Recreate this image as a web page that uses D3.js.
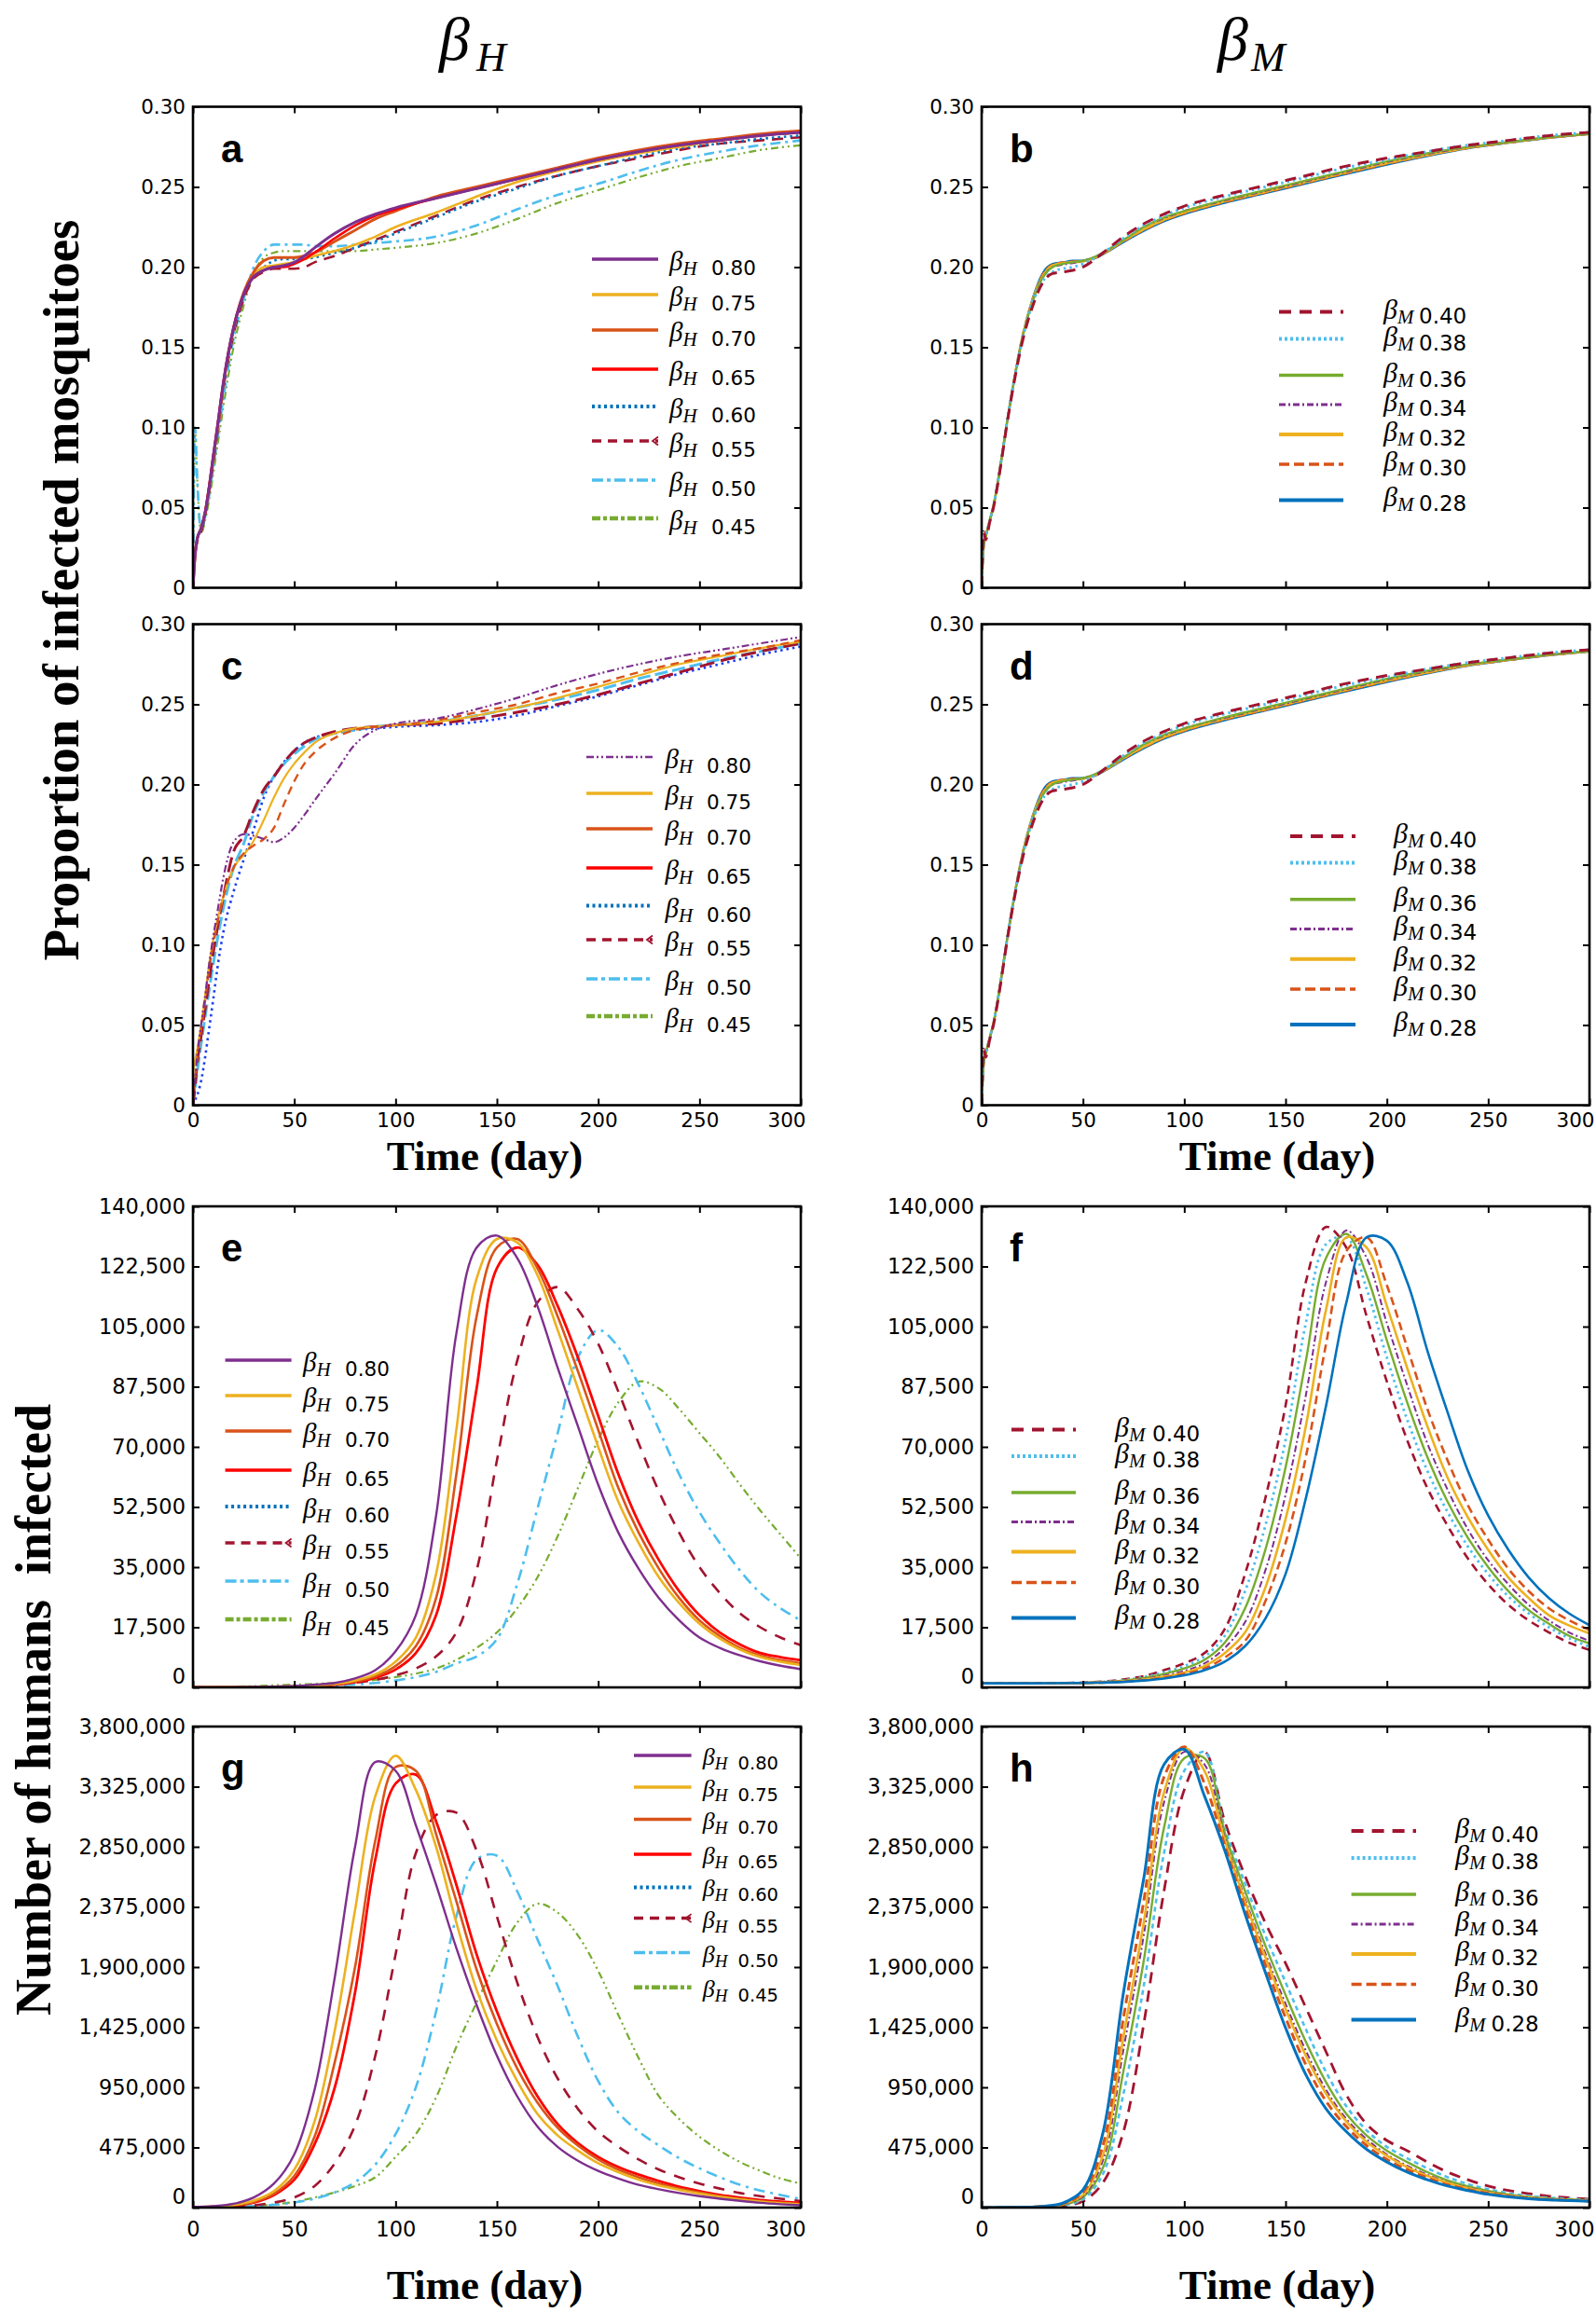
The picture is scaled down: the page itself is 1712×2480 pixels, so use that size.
<!DOCTYPE html>
<html><head><meta charset="utf-8">
<script src="https://cdn.jsdelivr.net/npm/d3@7"></script>
<style>body{margin:0;background:#fff;} svg{display:block;}</style>
</head><body>
<svg id="chart" width="1712" height="2480"></svg>
<script>
// ---------------- DATA ----------------
const X_TICKS = [0,50,100,150,200,250,300];
const X_LABELS = ["0","50","100","150","200","250","300"];
const MOS_YTICKS = [0,0.05,0.10,0.15,0.20,0.25,0.30];
const MOS_YLABELS = ["0","0.05","0.10","0.15","0.20","0.25","0.30"];
const HUM1_YTICKS = [0,17.5,35,52.5,70,87.5,105,122.5,140];           // thousands
const HUM1_YLABELS = ["0","17,500","35,000","52,500","70,000","87,500","105,000","122,500","140,000"];
const HUM2_YTICKS = [0,0.475,0.95,1.425,1.9,2.375,2.85,3.325,3.8];     // millions
const HUM2_YLABELS = ["0","475,000","950,000","1,425,000","1,900,000","2,375,000","2,850,000","3,325,000","3,800,000"];
const BH_LABELS = ["0.80","0.75","0.70","0.65","0.60","0.55","0.50","0.45"];
const BM_LABELS = ["0.40","0.38","0.36","0.34","0.32","0.30","0.28"];

const T_MOS = [0,1,2,4,6,8,10,12,15,20,25,30,35,40,45,50,55,60,70,80,90,100,120,140,160,180,200,220,240,260,280,300];
const T_E = [0,25,50,60,70,80,90,100,110,120,130,140,150,160,170,180,190,200,210,220,230,240,250,260,270,280,290,300];
const T_G = [0,10,20,30,40,50,60,70,80,90,100,110,120,130,140,150,160,170,180,190,200,210,220,230,240,250,260,270,280,290,300];

// panel a (proportion)
const A_080 = [0,0.02,0.03,0.037,0.047,0.063,0.082,0.1,0.128,0.162,0.183,0.194,0.198,0.2,0.201,0.203,0.207,0.212,0.221,0.228,0.233,0.237,0.243,0.249,0.255,0.261,0.267,0.272,0.276,0.279,0.282,0.284];
const A_075 = [0,0.02,0.03,0.037,0.047,0.063,0.081,0.099,0.127,0.161,0.183,0.195,0.2,0.201,0.202,0.203,0.205,0.207,0.21,0.214,0.219,0.225,0.234,0.244,0.253,0.26,0.266,0.271,0.275,0.279,0.282,0.284];
const A_070 = [0,0.02,0.03,0.037,0.047,0.063,0.081,0.099,0.127,0.162,0.184,0.197,0.204,0.206,0.206,0.206,0.207,0.209,0.216,0.223,0.23,0.235,0.244,0.25,0.256,0.262,0.268,0.273,0.277,0.28,0.283,0.285];
const A_065 = [0,0.02,0.03,0.037,0.047,0.063,0.082,0.1,0.128,0.162,0.183,0.194,0.198,0.2,0.2,0.202,0.205,0.209,0.218,0.226,0.232,0.236,0.243,0.249,0.255,0.261,0.267,0.272,0.276,0.279,0.282,0.284];
const A_060 = [0,0.02,0.03,0.036,0.046,0.062,0.08,0.098,0.126,0.16,0.182,0.194,0.2,0.204,0.205,0.205,0.205,0.206,0.209,0.212,0.216,0.221,0.231,0.241,0.249,0.257,0.263,0.269,0.274,0.277,0.28,0.282];
const A_055 = [0,0.02,0.028,0.035,0.045,0.06,0.078,0.096,0.124,0.158,0.18,0.193,0.197,0.199,0.199,0.199,0.2,0.203,0.207,0.212,0.217,0.222,0.232,0.242,0.25,0.257,0.263,0.268,0.273,0.277,0.279,0.281];
const A_050 = [0,0.1,0.07,0.036,0.044,0.058,0.075,0.092,0.118,0.155,0.18,0.2,0.21,0.214,0.214,0.214,0.214,0.213,0.213,0.214,0.215,0.216,0.219,0.226,0.236,0.245,0.252,0.26,0.267,0.272,0.276,0.279];
const A_045 = [0,0.1,0.07,0.034,0.042,0.055,0.071,0.088,0.113,0.15,0.176,0.196,0.206,0.209,0.21,0.21,0.21,0.21,0.21,0.21,0.211,0.212,0.215,0.221,0.23,0.24,0.248,0.256,0.263,0.268,0.273,0.276];

// panels b and d (proportion, beta_M)
const B_040 = [0,0.035,0.03,0.041,0.051,0.065,0.081,0.098,0.121,0.153,0.175,0.19,0.196,0.197,0.198,0.2,0.204,0.209,0.219,0.227,0.233,0.238,0.245,0.251,0.257,0.263,0.268,0.272,0.276,0.279,0.282,0.284];
const B_038 = [0,0.028,0.032,0.042,0.052,0.066,0.082,0.099,0.122,0.154,0.177,0.191,0.197,0.199,0.2,0.202,0.205,0.209,0.218,0.226,0.232,0.237,0.244,0.25,0.256,0.262,0.267,0.272,0.276,0.279,0.282,0.284];
const B_036 = [0,0.026,0.032,0.042,0.052,0.066,0.082,0.099,0.122,0.155,0.178,0.193,0.2,0.202,0.203,0.204,0.206,0.209,0.217,0.225,0.231,0.235,0.242,0.248,0.254,0.26,0.266,0.271,0.275,0.278,0.281,0.283];
const B_034 = [0,0.026,0.032,0.042,0.052,0.066,0.082,0.099,0.122,0.155,0.178,0.193,0.2,0.2015,0.2025,0.204,0.206,0.209,0.217,0.225,0.2305,0.235,0.2415,0.2475,0.2535,0.2595,0.2655,0.2705,0.2748,0.278,0.281,0.283];
const B_032 = [0,0.026,0.032,0.042,0.052,0.066,0.082,0.099,0.122,0.156,0.179,0.194,0.201,0.2025,0.203,0.2035,0.2055,0.2085,0.2165,0.2235,0.2295,0.234,0.241,0.247,0.253,0.259,0.2648,0.27,0.2745,0.2778,0.2808,0.283];
const B_030 = [0,0.026,0.032,0.042,0.052,0.066,0.082,0.099,0.122,0.156,0.179,0.195,0.2015,0.203,0.2035,0.2038,0.2053,0.2083,0.216,0.223,0.229,0.2335,0.2405,0.2465,0.2525,0.2585,0.2643,0.2696,0.2742,0.2776,0.2806,0.283];
const B_028 = [0,0.026,0.032,0.042,0.052,0.066,0.082,0.099,0.122,0.156,0.18,0.196,0.202,0.203,0.204,0.204,0.205,0.208,0.2155,0.2225,0.2285,0.233,0.24,0.246,0.252,0.258,0.2638,0.2692,0.274,0.2774,0.2805,0.283];

// panel c (proportion, beta_H)
const C_080 = [0,0.015,0.03,0.05,0.068,0.088,0.105,0.12,0.142,0.164,0.169,0.168,0.166,0.164,0.167,0.173,0.181,0.19,0.207,0.225,0.234,0.238,0.241,0.247,0.254,0.262,0.269,0.275,0.28,0.284,0.288,0.292];
const C_075 = [0.02,0.028,0.034,0.05,0.068,0.088,0.103,0.115,0.13,0.148,0.156,0.165,0.178,0.192,0.204,0.213,0.22,0.226,0.232,0.235,0.236,0.237,0.239,0.243,0.248,0.254,0.261,0.268,0.275,0.28,0.285,0.289];
const C_070 = [0,0.015,0.028,0.047,0.065,0.085,0.1,0.113,0.13,0.148,0.157,0.162,0.166,0.173,0.188,0.202,0.213,0.22,0.229,0.234,0.236,0.237,0.24,0.245,0.25,0.257,0.263,0.27,0.276,0.281,0.285,0.29];
const C_060 = [0,0.003,0.006,0.015,0.03,0.048,0.066,0.085,0.108,0.133,0.153,0.172,0.192,0.205,0.214,0.221,0.226,0.229,0.232,0.234,0.235,0.236,0.237,0.239,0.243,0.249,0.255,0.262,0.269,0.275,0.281,0.286];
const C_055 = [0,0.012,0.025,0.043,0.06,0.078,0.095,0.11,0.13,0.158,0.168,0.184,0.197,0.205,0.214,0.221,0.226,0.229,0.233,0.235,0.236,0.237,0.238,0.241,0.245,0.25,0.256,0.263,0.27,0.277,0.283,0.288];
const C_050 = [0,0.01,0.02,0.038,0.055,0.072,0.088,0.103,0.123,0.148,0.163,0.182,0.195,0.205,0.213,0.219,0.224,0.228,0.232,0.234,0.236,0.237,0.239,0.243,0.248,0.253,0.259,0.266,0.272,0.278,0.283,0.288];

// panel e (humans infected, thousands)
const E_080 = [0,0.1,0.4,0.8,1.3,2.6,5,10.5,21,50,103,128,131.5,125,111,93,76,59,45,34.5,26,19.5,14.5,11.5,9.3,7.6,6.3,5.3];
const E_075 = [0,0.1,0.3,0.6,1.0,2.0,3.8,7.5,14.5,33,75,119,130.5,129.5,120,104,87,70,54,42,32,24.5,18.5,14.2,11,8.8,7.5,6.5];
const E_070 = [0,0.1,0.25,0.5,0.9,1.7,3.2,6.2,12,26,62,108,128,130.5,122,108,92,75,58,45,34.5,26,19.5,15,11.5,9.2,7.9,7.0];
const E_065 = [0,0.1,0.2,0.4,0.8,1.5,2.8,5.2,10,21,50,87,122,128,123,111,96,79,62,48,37,28,21,16,12.5,10,8.8,7.9];
const E_055 = [0,0.05,0.3,0.6,0.9,1.4,2.2,3.5,5.5,9,16,34,66,95,112,116.5,110,100,86,71,57,45,35,27.5,21.5,17.5,14.5,12.3];
const E_050 = [0,0.05,0.2,0.4,0.6,0.9,1.3,2,3,4.5,7,9,14,30,52,74,96,104,99,88,75,62,51,42,34,27.5,23,19.5];
const E_045 = [0,0.3,0.8,1.0,1.3,1.7,2.2,3,4,5.5,8,11.5,16,23,32,44,58,72,83,89,87,81,74,67,59,51.5,44.5,37.5];

// panel f (humans infected, thousands)
const F_040 = [1.2,1.2,1.4,1.7,2.3,3.3,5,7,10,17,33,55,82,118,134,128,108,89,72,58,47,37.5,30,24,19.5,16,13,10.9];
const F_038 = [1.2,1.2,1.35,1.6,2.1,3,4.4,6.2,9,15,28,47,72,106,129,131,116,96,78,63,51,41,33,26.5,21.5,17.5,14.3,11.8];
const F_036 = [1.2,1.2,1.3,1.55,2,2.7,3.9,5.5,8,13,23,40,64,95,125,132,120,101,83,67,54,43.5,35,28,22.5,18.5,15,12.8];
const F_034 = [1.2,1.2,1.3,1.5,1.9,2.5,3.4,4.8,7,11.5,19,34,56,85,118,133,125,106,88,71,57.5,46,37,30,24,19.5,16,13.5];
const F_032 = [1.2,1.2,1.3,1.45,1.8,2.3,3.1,4.3,6.2,10,16,29,49,76,110,131,128,111,93,76,61,49.5,40,32,26,21,18,15.7];
const F_030 = [1.2,1.2,1.3,1.4,1.7,2.1,2.8,3.9,5.5,8.7,13.5,25,42,67,100,127,131,117,99,81,66,53,43,34.5,28,23,19.5,16.7];
const F_028 = [1.2,1.2,1.3,1.4,1.6,2.0,2.6,3.5,5,7.5,12,20,33,55,82,112,131,130,118,98,80,63,50,40,32,26,21.5,18.1];

// panel g (humans infected, millions)
const G_080 = [0.005,0.012,0.03,0.08,0.19,0.42,0.93,1.82,2.85,3.52,3.45,3.02,2.55,2.05,1.6,1.2,0.88,0.64,0.48,0.37,0.29,0.23,0.18,0.145,0.115,0.09,0.07,0.053,0.038,0.027,0.018];
const G_075 = [0.003,0.008,0.02,0.055,0.13,0.3,0.68,1.4,2.35,3.25,3.57,3.3,2.85,2.25,1.72,1.32,1.0,0.74,0.57,0.45,0.35,0.28,0.22,0.175,0.14,0.11,0.085,0.065,0.048,0.035,0.025];
const G_070 = [0.003,0.007,0.017,0.045,0.11,0.25,0.56,1.15,1.9,2.9,3.48,3.45,2.95,2.42,1.88,1.45,1.1,0.83,0.63,0.49,0.38,0.3,0.24,0.19,0.15,0.12,0.092,0.07,0.052,0.038,0.028];
const G_065 = [0.002,0.006,0.015,0.04,0.1,0.22,0.5,0.95,1.7,2.75,3.35,3.42,3.05,2.55,2.0,1.55,1.18,0.88,0.66,0.51,0.4,0.32,0.26,0.21,0.165,0.13,0.1,0.078,0.06,0.046,0.037];
const G_055 = [0.002,0.004,0.008,0.018,0.04,0.08,0.17,0.35,0.65,1.2,2.0,2.8,3.1,3.12,2.82,2.3,1.78,1.35,1.02,0.78,0.6,0.48,0.38,0.3,0.24,0.19,0.15,0.115,0.09,0.07,0.052];
const G_050 = [0.001,0.003,0.006,0.012,0.022,0.04,0.07,0.12,0.2,0.34,0.58,0.95,1.55,2.3,2.75,2.78,2.5,2.12,1.75,1.35,1.0,0.75,0.6,0.49,0.39,0.31,0.24,0.18,0.135,0.1,0.067];
const G_045 = [0.001,0.003,0.006,0.012,0.025,0.045,0.08,0.12,0.17,0.24,0.4,0.58,0.87,1.27,1.62,1.95,2.25,2.4,2.33,2.15,1.87,1.52,1.18,0.88,0.7,0.56,0.45,0.36,0.29,0.23,0.19];

// panel h (humans infected, millions)
const H_040 = [0,0.001,0.002,0.005,0.015,0.05,0.2,0.6,1.45,2.5,3.3,3.6,3.05,2.62,2.25,1.93,1.58,1.23,0.89,0.66,0.53,0.45,0.36,0.28,0.22,0.17,0.135,0.11,0.09,0.078,0.067];
const H_038 = [0,0.001,0.002,0.006,0.018,0.065,0.27,0.9,1.75,2.8,3.45,3.6,3.0,2.56,2.15,1.78,1.41,1.07,0.8,0.61,0.48,0.39,0.31,0.24,0.185,0.145,0.114,0.092,0.078,0.069,0.062];
const H_036 = [0,0.001,0.002,0.007,0.022,0.08,0.32,1.08,1.95,3.0,3.55,3.55,2.96,2.5,2.07,1.68,1.31,0.99,0.74,0.57,0.45,0.36,0.28,0.215,0.168,0.132,0.104,0.085,0.072,0.064,0.058];
const H_034 = [0,0.001,0.002,0.007,0.025,0.09,0.38,1.25,2.15,3.2,3.6,3.5,2.92,2.44,2.01,1.61,1.24,0.93,0.7,0.54,0.42,0.33,0.26,0.2,0.158,0.124,0.098,0.08,0.068,0.061,0.055];
const H_032 = [0,0.001,0.003,0.008,0.028,0.1,0.42,1.35,2.25,3.28,3.63,3.45,2.9,2.42,1.98,1.57,1.2,0.9,0.68,0.52,0.41,0.32,0.25,0.195,0.152,0.12,0.095,0.078,0.066,0.06,0.054];
const H_030 = [0,0.001,0.003,0.009,0.03,0.12,0.5,1.5,2.42,3.4,3.64,3.35,2.86,2.37,1.92,1.5,1.13,0.84,0.64,0.49,0.38,0.3,0.235,0.18,0.143,0.112,0.09,0.074,0.063,0.057,0.052];
const H_028 = [0,0.001,0.003,0.01,0.035,0.14,0.6,1.7,2.6,3.5,3.62,3.25,2.82,2.32,1.86,1.42,1.05,0.78,0.6,0.46,0.36,0.28,0.22,0.17,0.135,0.105,0.085,0.07,0.06,0.055,0.05];

// ---------------- STYLES ----------------
const COL = {purple:"#7E2F8E", yellow:"#EDB120", orange:"#D95319", red:"#FF0000",
             blue:"#0072BD", maroon:"#A2142F", lblue:"#4DBEEE", green:"#77AC30", dblue:"#1a3ff0"};
const ST = {
  solid:  {dash:null},
  dot:    {dash:"2.5,4"},
  dash:   {dash:"12,8"},
  dashS:  {dash:"8,5"},
  dashL:  {dash:"16,7"},
  dashdot:{dash:"11,5,3,5"},
  dd2:    {dash:"8,4,2,4,2,4"},
  dashdotB:{dash:"9,3,4,3"}
};
// legend styles for beta_H panels (a, e, g)
const LEG_H = [
  {c:COL.purple, d:ST.solid, w:3.5},
  {c:COL.yellow, d:ST.solid, w:3.5},
  {c:COL.orange, d:ST.solid, w:3.5},
  {c:COL.red,    d:ST.solid, w:3.5},
  {c:COL.blue,   d:{dash:"3,3.5"}, w:4},
  {c:COL.maroon, d:{dash:"10,7"}, w:3.5, marker:true},
  {c:COL.lblue,  d:{dash:"12,4,4,4"}, w:3.5},
  {c:COL.green,  d:ST.dashdotB, w:4.5}
];
const LEG_HC = LEG_H.map((e,i)=> i===0 ? {c:COL.purple, d:{dash:"8,3,2,3,2,3"}, w:2.5} : e);
const LEG_M = [
  {c:COL.maroon, d:{dash:"13,9"}, w:4},
  {c:COL.lblue,  d:{dash:"3,3"}, w:4},
  {c:COL.green,  d:ST.solid, w:3.5},
  {c:COL.purple, d:{dash:"7,3,2,3"}, w:3},
  {c:COL.yellow, d:ST.solid, w:4},
  {c:COL.orange, d:{dash:"11,5"}, w:3.5},
  {c:COL.blue,   d:ST.solid, w:4}
];

// ---------------- LAYOUT ----------------
const svg = d3.select("#chart");
const PW = 652, PH = 516;
const COLX = [207, 1053];
const ROWY = [114.5, 669.5, 1294, 1852];

const panels = [
  {id:"a", x:COLX[0], y:ROWY[0], t:T_MOS, dom:[0,0.3], yt:MOS_YTICKS, yl:MOS_YLABELS, xlab:false, curve:d3.curveMonotoneX, fs:21.5,
   series:[
     {v:A_045, c:COL.green, d:ST.dd2, w:2.2},
     {v:A_050, c:COL.lblue, d:ST.dashdot, w:2.6},
     {v:A_055, c:COL.maroon, d:ST.dash, w:2.6},
     {v:A_060, c:COL.blue, d:ST.dot, w:2.6},
     {v:A_075, c:COL.yellow, d:ST.solid, w:2.6},
     {v:A_070, c:COL.orange, d:ST.solid, w:3},
     {v:A_065, c:COL.red, d:ST.solid, w:2.6},
     {v:A_080, c:COL.purple, d:ST.solid, w:3}],
   leg:{entries:LEG_H, labels:BH_LABELS, sym:"H", x1:635, x2:706, rows:[278,316,354,396,436,473,515,556], bx:718, nx:763, dy:17, bs:29, ss:21, ns:21.5}},
  {id:"b", x:COLX[1], y:ROWY[0], t:T_MOS, dom:[0,0.3], yt:MOS_YTICKS, yl:MOS_YLABELS, xlab:false, curve:d3.curveMonotoneX, fs:21.5,
   series:[
     {v:B_028, c:COL.blue, d:ST.solid, w:2},
     {v:B_030, c:COL.orange, d:ST.dashS, w:2.4},
     {v:B_032, c:COL.yellow, d:ST.solid, w:2.6},
     {v:B_034, c:COL.purple, d:{dash:"7,3,2,3"}, w:2},
     {v:B_036, c:COL.green, d:ST.solid, w:2.2},
     {v:B_038, c:COL.lblue, d:ST.dot, w:3},
     {v:B_040, c:COL.maroon, d:ST.dash, w:3}],
   leg:{entries:LEG_M, labels:BM_LABELS, sym:"M", x1:1372, x2:1441, rows:[334.6,363.6,402.5,434,466,498,536.4], bx:1484, nx:1522, dy:12, bs:30, ss:21, ns:23}},
  {id:"c", x:COLX[0], y:ROWY[1], t:T_MOS, dom:[0,0.3], yt:MOS_YTICKS, yl:MOS_YLABELS, xlab:true, curve:d3.curveMonotoneX, fs:21.5, xpad:8, xtitleY:1255, xtitleX:520,
   series:[
     {v:C_060, c:COL.dblue, d:ST.dot, w:2.6},
     {v:C_050, c:COL.lblue, d:{dash:"14,5"}, w:3},
     {v:C_055, c:COL.maroon, d:ST.dashL, w:3},
     {v:C_075, c:COL.yellow, d:ST.solid, w:2.2},
     {v:C_070, c:COL.orange, d:{dash:"9,6"}, w:2.4},
     {v:C_080, c:COL.purple, d:{dash:"8,3,2,3,2,3"}, w:2.2}],
   leg:{entries:LEG_HC, labels:BH_LABELS, sym:"H", x1:629, x2:700, rows:[812,851,889,931,971.5,1008,1050,1090], bx:713.5, nx:758, dy:17, bs:29, ss:21, ns:21.5}},
  {id:"d", x:COLX[1], y:ROWY[1], t:T_MOS, dom:[0,0.3], yt:MOS_YTICKS, yl:MOS_YLABELS, xlab:true, curve:d3.curveMonotoneX, fs:21.5, xpad:8, xtitleY:1255, xtitleX:1370,
   series:[
     {v:B_028, c:COL.blue, d:ST.solid, w:2},
     {v:B_030, c:COL.orange, d:ST.dashS, w:2.4},
     {v:B_032, c:COL.yellow, d:ST.solid, w:2.6},
     {v:B_034, c:COL.purple, d:{dash:"7,3,2,3"}, w:2},
     {v:B_036, c:COL.green, d:ST.solid, w:2.2},
     {v:B_038, c:COL.lblue, d:ST.dot, w:3},
     {v:B_040, c:COL.maroon, d:ST.dash, w:3}],
   leg:{entries:LEG_M, labels:BM_LABELS, sym:"M", x1:1384, x2:1454, rows:[897,925.6,964.8,996.4,1028.8,1061,1099], bx:1495, nx:1533, dy:12, bs:30, ss:21, ns:23}},
  {id:"e", x:COLX[0], y:ROWY[2], t:T_E, dom:[0,140], yt:HUM1_YTICKS, yl:HUM1_YLABELS, xlab:false, curve:d3.curveCatmullRom, fs:22.5, zeroUp:true,
   series:[
     {v:E_045, c:COL.green, d:ST.dd2, w:2.2},
     {v:E_050, c:COL.lblue, d:{dash:"12,6,3,6"}, w:2.6},
     {v:E_055, c:COL.maroon, d:{dash:"12,10"}, w:2.6},
     {v:E_065, c:COL.red, d:ST.solid, w:2.8},
     {v:E_070, c:COL.orange, d:ST.solid, w:2.6},
     {v:E_075, c:COL.yellow, d:ST.solid, w:2.6},
     {v:E_080, c:COL.purple, d:ST.solid, w:2.4}],
   leg:{entries:LEG_H, labels:BH_LABELS, sym:"H", x1:241.6, x2:312.6, rows:[1459,1497,1535,1577,1616,1655,1696,1737], bx:325, nx:370, dy:17, bs:29, ss:21, ns:21.5}},
  {id:"f", x:COLX[1], y:ROWY[2], t:T_E, dom:[0,140], yt:HUM1_YTICKS, yl:HUM1_YLABELS, xlab:false, curve:d3.curveCatmullRom, fs:22.5, zeroUp:true,
   series:[
     {v:F_040, c:COL.maroon, d:{dash:"9,6"}, w:2.6},
     {v:F_038, c:COL.lblue, d:ST.dot, w:2.8},
     {v:F_036, c:COL.green, d:ST.solid, w:2.4},
     {v:F_034, c:COL.purple, d:{dash:"7,3,2,3"}, w:2},
     {v:F_032, c:COL.yellow, d:ST.solid, w:2.6},
     {v:F_030, c:COL.orange, d:{dash:"9,5"}, w:2.6},
     {v:F_028, c:COL.blue, d:ST.solid, w:2.6}],
   leg:{entries:LEG_M, labels:BM_LABELS, sym:"M", x1:1085, x2:1154, rows:[1533.6,1562,1601,1632.5,1664.6,1697.5,1735.4], bx:1196, nx:1236, dy:12, bs:30, ss:21, ns:23}},
  {id:"g", x:COLX[0], y:ROWY[3], t:T_G, dom:[0,3.8], yt:HUM2_YTICKS, yl:HUM2_YLABELS, xlab:true, curve:d3.curveCatmullRom, fs:22.5, zeroUp:true, xpad:15, xtitleY:2466, xtitleX:520,
   series:[
     {v:G_045, c:COL.green, d:ST.dd2, w:2.2},
     {v:G_050, c:COL.lblue, d:{dash:"12,6,3,6"}, w:2.6},
     {v:G_055, c:COL.maroon, d:{dash:"12,10"}, w:2.6},
     {v:G_065, c:COL.red, d:ST.solid, w:2.8},
     {v:G_070, c:COL.orange, d:ST.solid, w:2.6},
     {v:G_075, c:COL.yellow, d:ST.solid, w:2.6},
     {v:G_080, c:COL.purple, d:ST.solid, w:2.4}],
   leg:{entries:LEG_H, labels:BH_LABELS, sym:"H", x1:680, x2:741.6, rows:[1883,1917,1951.5,1989,2024.4,2057.6,2094.5,2131.8], bx:753.7, nx:791.6, dy:15, bs:26, ss:19, ns:19.5}},
  {id:"h", x:COLX[1], y:ROWY[3], t:T_G, dom:[0,3.8], yt:HUM2_YTICKS, yl:HUM2_YLABELS, xlab:true, curve:d3.curveCatmullRom, fs:22.5, zeroUp:true, xpad:15, xtitleY:2466, xtitleX:1370,
   series:[
     {v:H_040, c:COL.maroon, d:{dash:"12,8"}, w:2.8},
     {v:H_038, c:COL.lblue, d:{dash:"5,4"}, w:2.6},
     {v:H_036, c:COL.green, d:ST.solid, w:2.4},
     {v:H_034, c:COL.purple, d:{dash:"7,3,2,3"}, w:2},
     {v:H_032, c:COL.yellow, d:ST.solid, w:2.6},
     {v:H_030, c:COL.orange, d:{dash:"9,5"}, w:3},
     {v:H_028, c:COL.blue, d:ST.solid, w:3}],
   leg:{entries:LEG_M, labels:BM_LABELS, sym:"M", x1:1449.6, x2:1519, rows:[1964,1993,2032,2064,2096,2128.5,2166.6], bx:1561, nx:1599.5, dy:12, bs:30, ss:21, ns:23}}
];

const defs = svg.append("defs");

panels.forEach(p => {
  const g = svg.append("g").attr("class","panel-"+p.id);
  const x = d3.scaleLinear().domain([0,300]).range([p.x, p.x+PW]);
  const y = d3.scaleLinear().domain(p.dom).range([p.y+PH, p.y]);

  defs.append("clipPath").attr("id","clip-"+p.id).append("rect")
    .attr("x",p.x).attr("y",p.y).attr("width",PW).attr("height",PH);

  const line = d3.line().x((d,i)=>x(p.t[i])).y(d=>y(d)).curve(p.curve);
  const lg = g.append("g").attr("clip-path","url(#clip-"+p.id+")");
  p.series.forEach(s => {
    lg.append("path").attr("d", line(s.v)).attr("fill","none")
      .attr("stroke", s.c).attr("stroke-width", s.w)
      .attr("stroke-dasharray", s.d.dash).attr("stroke-linejoin","round");
  });

  // axes with inward ticks
  const tickStyle = sel => { sel.select(".domain").remove(); sel.selectAll(".tick line").attr("stroke","#000").attr("stroke-width",2); };
  const xb = d3.axisBottom(x).tickValues(X_TICKS).tickSizeInner(-7).tickSizeOuter(0)
    .tickPadding(p.xpad||8).tickFormat((d,i)=> p.xlab ? X_LABELS[i] : "");
  const xa = g.append("g").attr("transform",`translate(0,${p.y+PH})`).call(xb).call(tickStyle);
  xa.selectAll("text").attr("font-family","DejaVu Sans").attr("font-size",p.fs).attr("fill","#000");
  xa.selectAll(".tick").filter(d=>d===300).select("text").attr("text-anchor","end").attr("x",5);

  g.append("g").attr("transform",`translate(0,${p.y})`)
    .call(d3.axisTop(x).tickValues(X_TICKS).tickSizeInner(-7).tickSizeOuter(0).tickFormat(()=>""))
    .call(tickStyle);

  const ya = g.append("g").attr("transform",`translate(${p.x},0)`)
    .call(d3.axisLeft(y).tickValues(p.yt).tickSizeInner(-7).tickSizeOuter(0).tickPadding(8).tickFormat((d,i)=>p.yl[i]))
    .call(tickStyle);
  ya.selectAll("text").attr("font-family","DejaVu Sans").attr("font-size",p.fs).attr("fill","#000");
  if (p.zeroUp) ya.selectAll(".tick").filter(d=>d===0).select("text").attr("dy","-0.2em");

  g.append("g").attr("transform",`translate(${p.x+PW},0)`)
    .call(d3.axisRight(y).tickValues(p.yt).tickSizeInner(-7).tickSizeOuter(0).tickFormat(()=>""))
    .call(tickStyle);

  // frame
  g.append("rect").attr("x",p.x).attr("y",p.y).attr("width",PW).attr("height",PH)
    .attr("fill","none").attr("stroke","#000").attr("stroke-width",2.6);

  // panel letter
  g.append("text").attr("x",p.x+30).attr("y",p.y+59)
    .attr("font-family","Liberation Sans, Arial, sans-serif").attr("font-weight","bold")
    .attr("font-size",42).text(p.id);

  // legend
  const L = p.leg;
  L.entries.forEach((e,i) => {
    const yy = L.rows[i];
    g.append("line").attr("x1",L.x1).attr("x2",L.x2).attr("y1",yy).attr("y2",yy)
      .attr("stroke",e.c).attr("stroke-width",e.w).attr("stroke-dasharray",e.d.dash);
    if (e.marker) {
      g.append("path").attr("d",`M${L.x2},${yy-4.5} L${L.x2-6},${yy} L${L.x2},${yy+4.5}`)
        .attr("fill","none").attr("stroke",e.c).attr("stroke-width",1.8);
    }
    const nb = yy + L.dy;
    const t = g.append("text").attr("x",L.bx).attr("y",nb)
      .attr("font-family","Liberation Serif, serif").attr("font-style","italic").attr("fill","#000");
    t.append("tspan").attr("font-size",L.bs).attr("dy",-5).text("β");
    t.append("tspan").attr("font-size",L.ss).attr("dy",5).text(L.sym);
    g.append("text").attr("x",L.nx).attr("y",nb).attr("font-family","DejaVu Sans")
      .attr("font-size",L.ns).attr("fill","#000").text(L.labels[i]);
  });

  if (p.xlab) {
    g.append("text").attr("x",p.xtitleX).attr("y",p.xtitleY).attr("text-anchor","middle")
      .attr("font-family","Liberation Serif, serif").attr("font-weight","bold")
      .attr("font-size",45).text("Time (day)");
  }
});

// column titles
function colTitle(bx, sx, sub){
  const t = svg.append("text").attr("x",bx).attr("y",64)
    .attr("font-family","Liberation Serif, serif").attr("font-style","italic").attr("fill","#000");
  t.append("tspan").attr("font-size",66).text("β");
  t.append("tspan").attr("x",sx).attr("dy",12).attr("font-size",44).text(sub);
}
colTitle(471, 511, "H");
colTitle(1306, 1342, "M");

// row titles
svg.append("text").attr("transform","translate(84,633) rotate(-90)").attr("text-anchor","middle")
  .attr("font-family","Liberation Serif, serif").attr("font-weight","bold").attr("font-size",55)
  .text("Proportion of infected mosquitoes");
svg.append("text").attr("transform","translate(54,1834) rotate(-90)").attr("text-anchor","middle")
  .attr("font-family","Liberation Serif, serif").attr("font-weight","bold").attr("font-size",54)
  .style("white-space","pre").text("Number of humans  infected");
</script>
</body></html>
